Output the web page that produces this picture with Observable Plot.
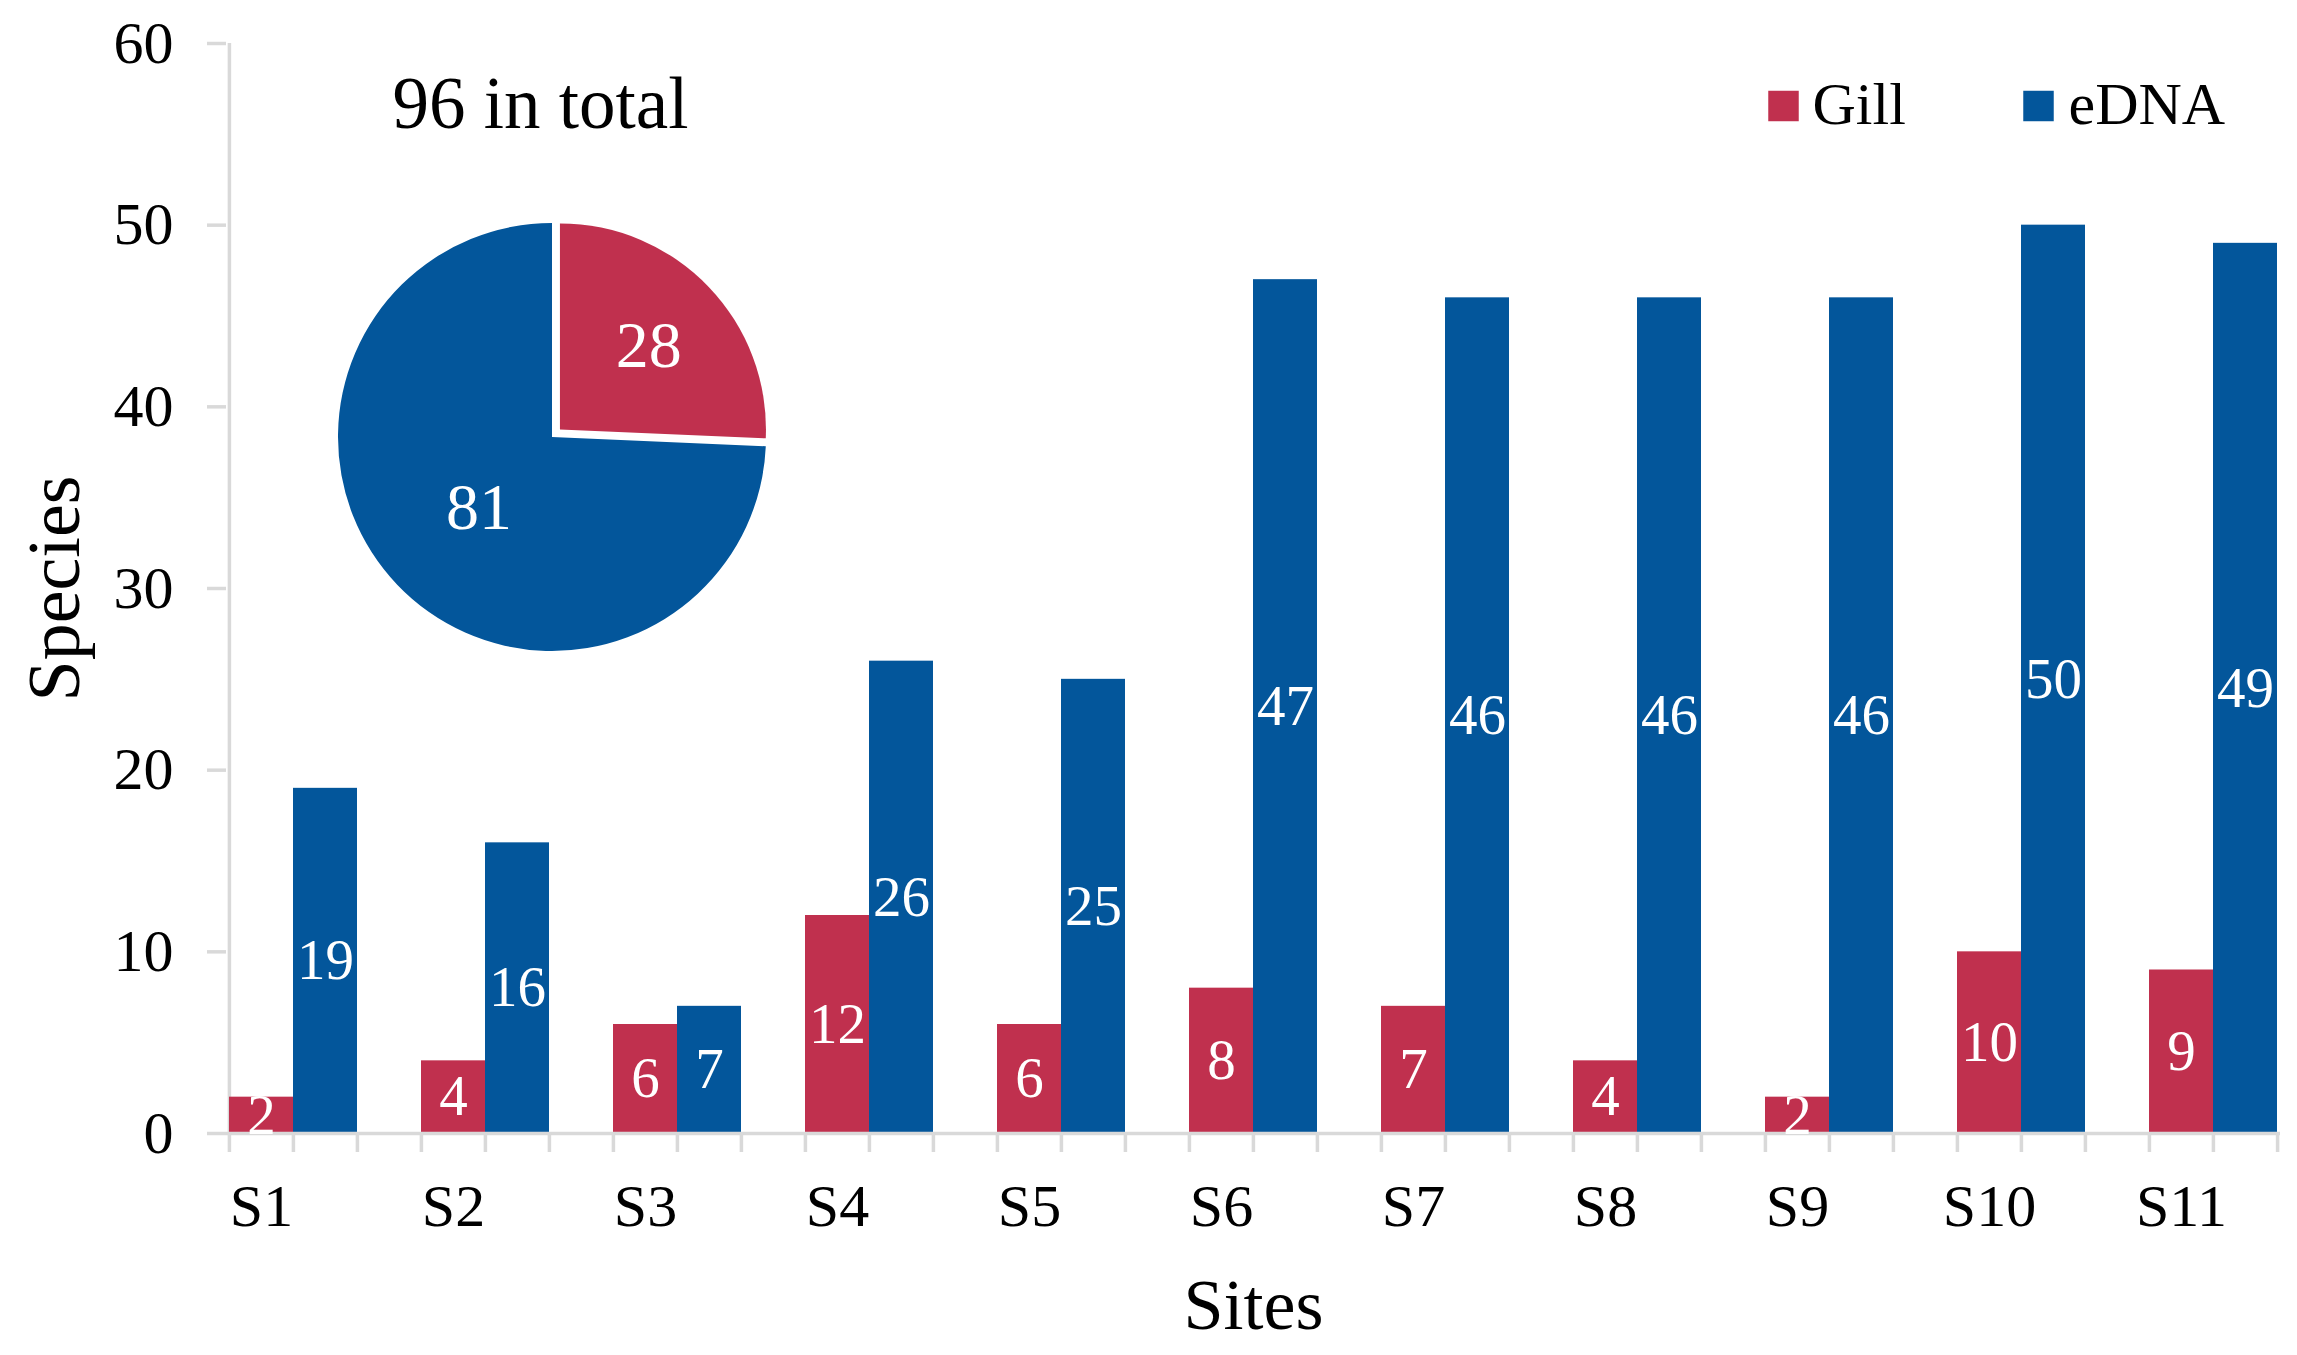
<!DOCTYPE html>
<html>
<head>
<meta charset="utf-8">
<script src="https://cdn.jsdelivr.net/npm/d3@7"></script>
<script src="https://cdn.jsdelivr.net/npm/@observablehq/plot@0.6"></script>
<style>body{margin:0;background:#fff}</style>
</head>
<body>
<div id="chart"></div>
<script>
// ---- data ----
const sites = ["S1","S2","S3","S4","S5","S6","S7","S8","S9","S10","S11"];
const series = ["Gill","eDNA"];
const gillValues = [2,4,6,12,6,8,7,4,2,10,9];
const ednaValues = [19,16,7,26,25,47,46,46,46,50,49];
const pieValues = [28,81]; // Gill, eDNA
const totalLabel = "96 in total";
const yTicks = [0,10,20,30,40,50,60];
const colors = ["#C0304E","#03569B"];
const xTitle = "Sites";
const yTitle = "Species";

// ---- layout ----
const W = 2297, H = 1355, mL = 226, mR = 17, mT = 43, mB = 222;
const gray = "#d9d9d9";
const font = "'Liberation Serif','Times New Roman',serif";

const slots = sites.flatMap((s, i) => i < sites.length - 1
  ? [s + "|Gill", s + "|eDNA", s + "|gap"]
  : [s + "|Gill", s + "|eDNA"]);
const bw = (W - mL - mR) / slots.length;
const bars = sites.flatMap((s, i) => [
  {site: s, series: "Gill", value: gillValues[i]},
  {site: s, series: "eDNA", value: ednaValues[i]}
]);
const key = d => d.site + "|" + d.series;

function pieMark(index, scales, values, dims) {
  const cx = dims.marginLeft + 326, cy = dims.marginTop + 394;
  const R = 214, Rex = 206, explode = 11;
  const arcs = d3.pie().sort(null)(pieValues);
  const g = d3.create("svg:g").attr("transform", `translate(${cx},${cy})`);
  arcs.forEach((a, i) => {
    const mid = (a.startAngle + a.endAngle) / 2;
    const off = i === 0 ? explode : 0;
    const r = i === 0 ? Rex : R;
    const ox = Math.sin(mid) * off, oy = -Math.cos(mid) * off;
    g.append("path")
      .attr("d", d3.arc().innerRadius(0).outerRadius(r)(a))
      .attr("transform", `translate(${ox},${oy})`)
      .attr("fill", scales.color(series[i]));
    const lr = i === 0 ? 123 : 101;
    g.append("text")
      .attr("x", ox + Math.sin(mid) * lr)
      .attr("y", oy - Math.cos(mid) * lr)
      .attr("dy", "0.34em")
      .attr("text-anchor", "middle")
      .attr("fill", "white")
      .attr("font-size", 66)
      .attr("font-family", font)
      .text(pieValues[i]);
  });
  return g.node();
}

const legendMarks = series.flatMap((s, i) => [
  Plot.dot([s], {frameAnchor: "top-left", dx: 1557 + i * 255, dy: 62.5, symbol: "square", r: 17.2, fill: d => d}),
  Plot.text([s], {frameAnchor: "top-left", dx: 1586 + i * 256, dy: 80, textAnchor: "start", lineAnchor: "bottom", fontSize: 60, text: d => d, fill: "black"})
]);

const chart = Plot.plot({
  width: W, height: H,
  marginLeft: mL, marginRight: mR, marginTop: mT, marginBottom: mB,
  style: {fontFamily: font, background: "white", color: "black"},
  x: {type: "band", domain: slots, padding: 0, axis: null},
  y: {domain: [0, 60], axis: null},
  color: {domain: series, range: colors},
  marks: [
    Plot.ruleX([slots[0]], {dx: -bw / 2, stroke: gray, strokeWidth: 3.5}),
    Plot.axisY(yTicks, {tickSize: 19, tickPadding: 34, fontSize: 60, stroke: gray, strokeWidth: 3.5, fill: "black", label: null}),
    Plot.barY(bars, {x: key, y: "value", fill: "series"}),
    Plot.ruleY([0], {stroke: gray, strokeWidth: 3.5}),
    Plot.ruleX(slots, {dx: -bw / 2, y1: 0, y2: 0, insetBottom: -19, stroke: gray, strokeWidth: 3.5}),
    Plot.ruleX([slots[slots.length - 1]], {dx: bw / 2, y1: 0, y2: 0, insetBottom: -19, stroke: gray, strokeWidth: 3.5}),
    Plot.text(bars, {x: key, y: d => d.value / 2, text: "value", fill: "white", fontSize: 57}),
    Plot.text(sites, {x: s => s + "|Gill", frameAnchor: "bottom", dy: 92, lineAnchor: "bottom", text: d => d, fontSize: 60, fill: "black"}),
    Plot.text([xTitle], {frameAnchor: "bottom", dy: 195, textAnchor: "middle", lineAnchor: "bottom", fontSize: 72, text: d => d, fill: "black"}),
    Plot.text([yTitle], {frameAnchor: "left", dx: -148, rotate: -90, textAnchor: "middle", lineAnchor: "bottom", fontSize: 74, text: d => d, fill: "black"}),
    Plot.text([totalLabel], {frameAnchor: "top-left", dx: 166, dy: 84, textAnchor: "start", lineAnchor: "bottom", fontSize: 73, text: d => d, fill: "black"}),
    pieMark,
    ...legendMarks
  ]
});
document.getElementById("chart").append(chart);
</script>
</body>
</html>
